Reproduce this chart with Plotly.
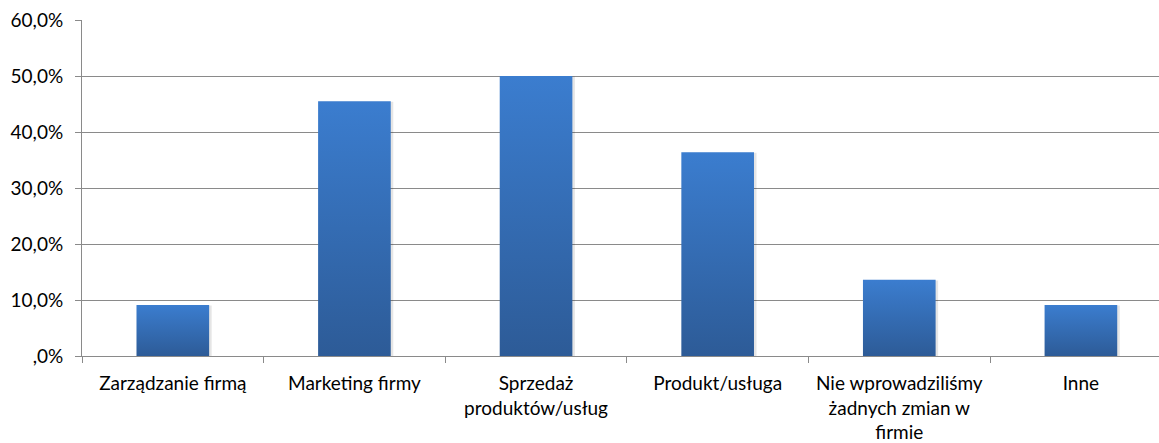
import plotly.graph_objects as go

categories = [
    "Zarządzanie firmą",
    "Marketing firmy",
    "Sprzedaż<br>produktów/usług",
    "Produkt/usługa",
    "Nie wprowadziliśmy<br>żadnych zmian w<br>firmie",
    "Inne",
]
values = [9.1, 45.5, 50.0, 36.4, 13.6, 9.1]
y_ticks = [0, 10, 20, 30, 40, 50, 60]
y_tick_labels = [",0%", "10,0%", "20,0%", "30,0%", "40,0%", "50,0%", "60,0%"]

BAR_HALF = 0.2
GRID = "#8a8a8a"
FONT = "Lato"
FSIZE = 19

fig = go.Figure()

for i, v in enumerate(values):
    # soft drop shadow behind each column
    fig.add_trace(go.Scatter(
        x=[i - BAR_HALF + 0.01, i + BAR_HALF + 0.014, i + BAR_HALF + 0.014, i - BAR_HALF + 0.01, i - BAR_HALF + 0.01],
        y=[-0.08, -0.08, v - 0.1, v - 0.1, -0.08],
        mode="lines", line=dict(width=0), fill="toself",
        fillcolor="rgba(0,0,0,0.10)", hoverinfo="skip", showlegend=False,
    ))
    # column with a vertical blue gradient
    fig.add_trace(go.Scatter(
        x=[i - BAR_HALF, i + BAR_HALF, i + BAR_HALF, i - BAR_HALF, i - BAR_HALF],
        y=[0, 0, v, v, 0],
        mode="lines", line=dict(width=0), fill="toself",
        fillgradient=dict(
            type="vertical",
            colorscale=[[0, "#2d5b97"], [1, "#3b7dcf"]],
        ),
        hovertemplate=f"{v:.1f}%<extra></extra>".replace(".", ","),
        showlegend=False,
    ))

fig.update_layout(
    width=1159, height=443,
    margin=dict(l=82, r=0, t=20, b=87),
    paper_bgcolor="white", plot_bgcolor="white",
    font=dict(family=FONT, size=FSIZE, color="#000000"),
)

fig.update_xaxes(
    range=[-0.5, 5.43],
    tickvals=list(range(len(categories))),
    ticktext=categories,
    ticks="",
    showgrid=False,
    showline=True, linecolor=GRID, linewidth=1,
    zeroline=False,
    ticklabelstandoff=10,
    minor=dict(tick0=-0.5, dtick=1, ticks="outside", ticklen=6, tickcolor=GRID, showgrid=False),
    tickfont=dict(family=FONT, size=FSIZE, color="#000000"),
)

fig.update_yaxes(
    range=[0, 60],
    tickvals=y_ticks,
    ticktext=y_tick_labels,
    ticks="outside", ticklen=6, tickcolor=GRID,
    showgrid=True, gridcolor=GRID, gridwidth=1,
    showline=True, linecolor=GRID, linewidth=1,
    zeroline=False,
    ticklabelstandoff=8,
    tickfont=dict(family=FONT, size=FSIZE, color="#000000"),
)

fig.write_html("out.html")
